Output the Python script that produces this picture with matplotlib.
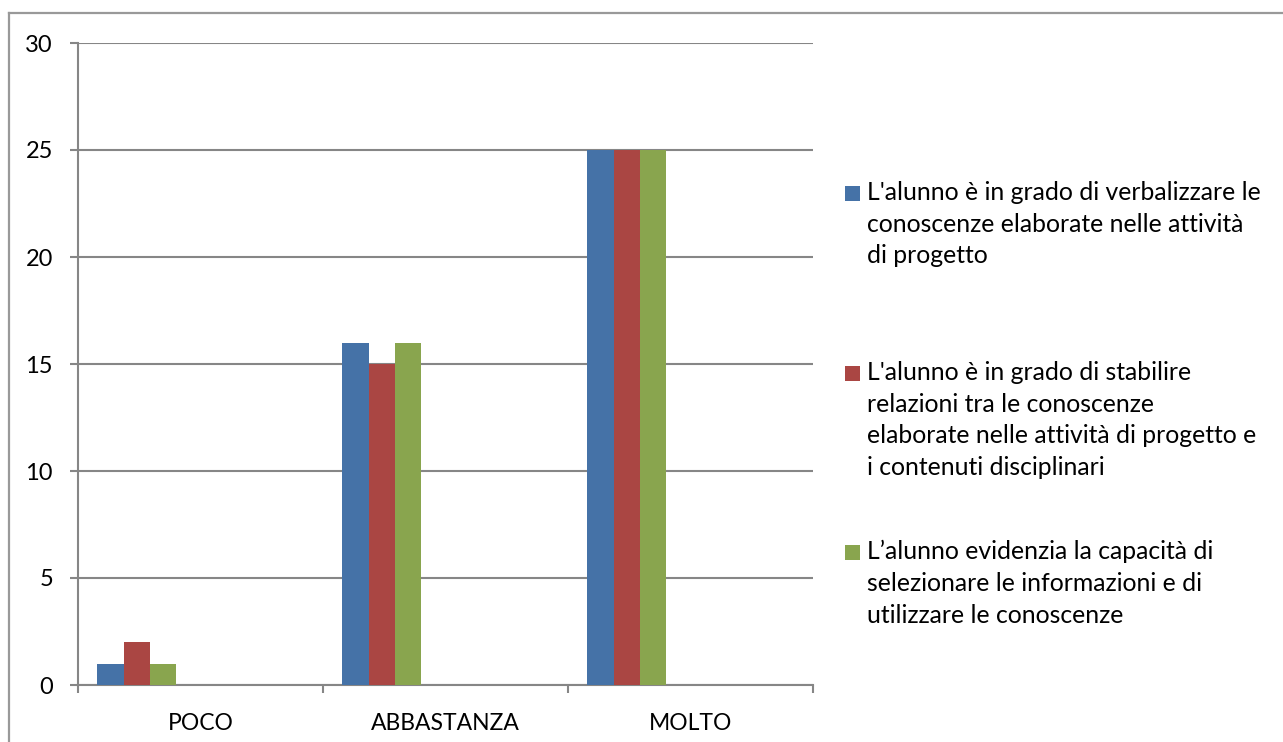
import numpy as np
import matplotlib.pyplot as plt
from matplotlib.patches import Rectangle
from matplotlib.lines import Line2D

categories = ["POCO", "ABBASTANZA", "MOLTO"]
series_names = [
    "L'alunno è in grado di verbalizzare le\nconoscenze elaborate nelle attività\ndi progetto",
    "L'alunno è in grado di stabilire\nrelazioni tra le conoscenze\nelaborate nelle attività di progetto e\ni contenuti disciplinari",
    "L\u2019alunno evidenzia la capacità di\nselezionare le informazioni e di\nutilizzare le conoscenze",
]
verbalizzare = [1, 16, 25]
stabilire = [2, 15, 25]
selezionare = [1, 16, 25]
yticks = [0, 5, 10, 15, 20, 25, 30]

colors = ["#4572A7", "#AA4643", "#89A54E"]
grid_col = "#868686"

plt.rcParams["font.family"] = ["Lato", "DejaVu Sans"]

W, H = 1283, 742
fig = plt.figure(figsize=(W / 100, H / 100), dpi=100)
ax = fig.add_axes([78 / W, 1 - 685 / H, (813 - 78) / W, (685 - 43) / H])

# excel-like clustered bars, sitting on the left of each category slot
bar_w = 26.3 / 245
first = 19.3 / 245
x = np.arange(len(categories))
for k, vals in enumerate([verbalizzare, stabilire, selezionare]):
    ax.bar(x + first + k * bar_w, vals, width=bar_w, align="edge",
           color=colors[k], edgecolor="none", zorder=3)

ax.set_xlim(0, len(categories))
ax.set_ylim(0, 30)
ax.set_yticks(yticks)
ax.yaxis.grid(True, color=grid_col, linewidth=1.5)
ax.set_axisbelow(True)

ax.set_xticks(np.arange(len(categories) + 1))
ax.set_xticklabels([])
ax.set_xticks(x + 0.5, minor=True)
ax.set_xticklabels(categories, minor=True)
ax.tick_params(axis="x", which="minor", length=0, pad=20, labelsize=16.5)
ax.tick_params(axis="x", which="major", length=6, width=1.5, color=grid_col, direction="out")
ax.tick_params(axis="y", length=6, width=1.5, color=grid_col, pad=12, labelsize=17)

for s in ["top", "right"]:
    ax.spines[s].set_visible(False)
for s in ["left", "bottom"]:
    ax.spines[s].set_color(grid_col)
    ax.spines[s].set_linewidth(1.5)

# outer chart frame (only top and left visible)
fig.add_artist(Line2D([9 / W, 1], [1 - 13 / H, 1 - 13 / H], color="#999999", lw=1.6,
                      transform=fig.transFigure))
fig.add_artist(Line2D([9 / W, 9 / W], [1 - 13 / H, 0], color="#999999", lw=1.6,
                      transform=fig.transFigure))

# legend on the right
entry_tops = [193, 373, 552]
for name, col, y0 in zip(series_names, colors, entry_tops):
    fig.add_artist(Rectangle((845 / W, 1 - (y0 + 8) / H), 15 / W, 15 / H,
                             facecolor=col, edgecolor="none", transform=fig.transFigure))
    fig.text(867 / W, 1 - (y0 - 12) / H, name, ha="left", va="top",
             fontsize=17.8, linespacing=1.46)

fig.savefig("out.png", dpi=100)
